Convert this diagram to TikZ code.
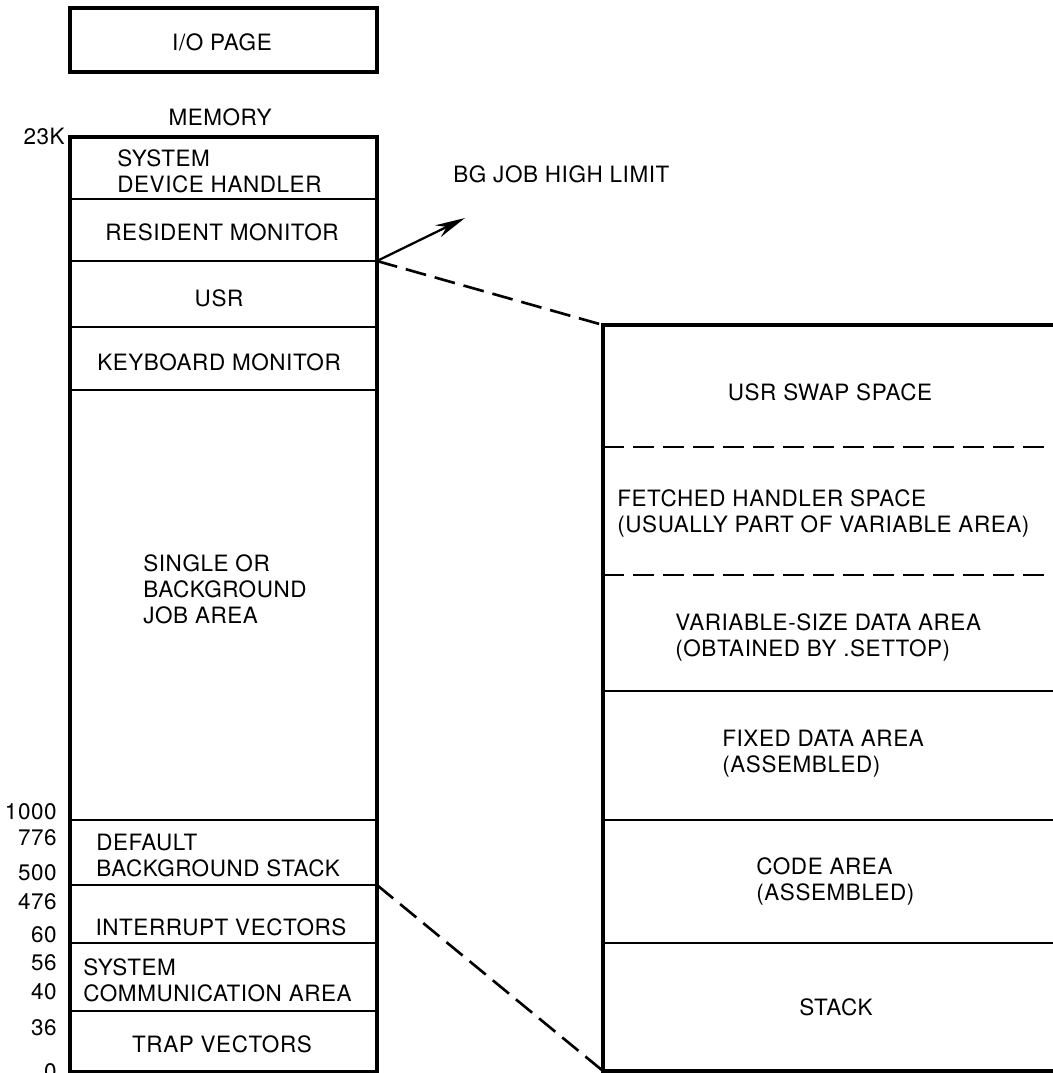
\documentclass[tikz,border=0pt]{standalone}
\usepackage{fontspec}
\setmainfont{TeX Gyre Heros}[LetterSpace=2.5]
\usetikzlibrary{arrows.meta}

\begin{document}
\begin{tikzpicture}[x=0.02cm,y=-0.02cm,
  every node/.style={font=\fontsize{12.8}{14.8}\selectfont},
  membox/.style={draw,line width=1.4pt,minimum width=6.14cm,inner sep=0pt,outer sep=0pt,anchor=north west},
  swapbox/.style={minimum width=9.1cm,inner sep=0pt,outer sep=0pt,anchor=north west},
  txt/.style={inner sep=0pt,anchor=west,align=left},
  ctxt/.style={inner sep=0pt},
  addr/.style={anchor=east,inner sep=0pt},
  splitline/.style={line width=1.4pt},
  outline/.style={line width=2pt},
  dashline/.style={dash pattern=on 0.42cm off 0.18cm,line width=1.5pt}]

\useasboundingbox (0,0) rectangle (1053,1073);

\node[membox,line width=1.9pt,minimum height=1.28cm] (iopage) at (70,8) {};
\node[ctxt] (iotext) at (222,42) {I/O PAGE};
\node[ctxt] (memory) at (220,117) {MEMORY};

\node[membox,minimum height=1.24cm] (sysdev) at (70,137) {};
\node[membox,minimum height=1.24cm] (resmon) at (70,199) {};
\node[membox,minimum height=1.32cm] (usr) at (70,261) {};
\node[membox,minimum height=1.26cm] (kbmon) at (70,327) {};
\node[membox,minimum height=8.6cm] (jobarea) at (70,390) {};
\node[membox,minimum height=1.3cm] (defstack) at (70,820) {};
\node[membox,minimum height=1.16cm] (intvec) at (70,885) {};
\node[membox,minimum height=1.36cm] (syscomm) at (70,943) {};
\node[membox,minimum height=1.22cm] (trapvec) at (70,1011) {};
\draw[outline] (sysdev.north west) rectangle (trapvec.south east);

\node[txt] (sysdevtext) at (117,171) {SYSTEM\\DEVICE HANDLER};
\node[ctxt] (resmontext) at (222,232) {RESIDENT MONITOR};
\node[ctxt] (usrtext) at (219,298) {USR};
\node[ctxt] (kbmontext) at (219,362) {KEYBOARD MONITOR};
\node[txt] (jobtext) at (143,589) {SINGLE OR\\BACKGROUND\\JOB AREA};
\node[txt] (defstacktext) at (96,855) {DEFAULT\\BACKGROUND STACK};
\node[ctxt] (intvectext) at (221,927) {INTERRUPT VECTORS};
\node[txt] (syscommtext) at (83,980) {SYSTEM\\COMMUNICATION AREA};
\node[ctxt] (trapvectext) at (222,1044) {TRAP VECTORS};

\node[addr] (a23k) at (65,136) {23K};
\node[addr] (a1000) at (57,812) {1000};
\node[addr] (a776) at (57,838) {776};
\node[addr] (a500) at (57,873) {500};
\node[addr] (a476) at (57,902) {476};
\node[addr] (a60) at (57,935) {60};
\node[addr] (a56) at (57,963) {56};
\node[addr] (a40) at (57,992) {40};
\node[addr] (a36) at (57,1028) {36};
\node[addr] (a0) at (57,1072) {0};

\node[swapbox,minimum height=2.44cm] (swap) at (603,325) {};
\node[swapbox,minimum height=2.56cm] (fetched) at (603,447) {};
\node[swapbox,minimum height=2.32cm] (vardata) at (603,575) {};
\node[swapbox,minimum height=2.58cm] (fixdata) at (603,691) {};
\node[swapbox,minimum height=2.46cm] (code) at (603,820) {};
\node[swapbox,minimum height=2.56cm] (stack) at (603,943) {};
\draw[outline] (swap.north west) rectangle (stack.south east);

\draw[dashline] (fetched.north west) -- (fetched.north east);
\draw[dashline] (vardata.north west) -- (vardata.north east);
\draw[splitline] (fixdata.north west) -- (fixdata.north east);
\draw[splitline] (code.north west) -- (code.north east);
\draw[splitline] (stack.north west) -- (stack.north east);

\node[ctxt] (swaptext) at (830,392) {USR SWAP SPACE};
\node[txt] (fetchedtext) at (617,513) {FETCHED HANDLER SPACE\\(USUALLY PART OF VARIABLE AREA)};
\node[txt] (vardatatext) at (675,637) {VARIABLE-SIZE DATA AREA\\(OBTAINED BY .SETTOP)};
\node[txt] (fixdatatext) at (722,754) {FIXED DATA AREA\\(ASSEMBLED)};
\node[txt] (codetext) at (756,881) {CODE AREA\\(ASSEMBLED)};
\node[ctxt] (stacktext) at (836,1007) {STACK};

\draw[dashline] (usr.north east) -- (swap.north west);
\draw[dashline] (intvec.north east) -- (stack.south west);

\coordinate (hightip) at (465,218);
\draw[line width=1.3pt,-{Stealth[length=0.6cm,width=0.26cm]}] (usr.north east) -- (hightip);
\node[anchor=base west,inner sep=0pt] (bglimit) at (453,182) {BG JOB HIGH LIMIT};

\end{tikzpicture}
\end{document}
